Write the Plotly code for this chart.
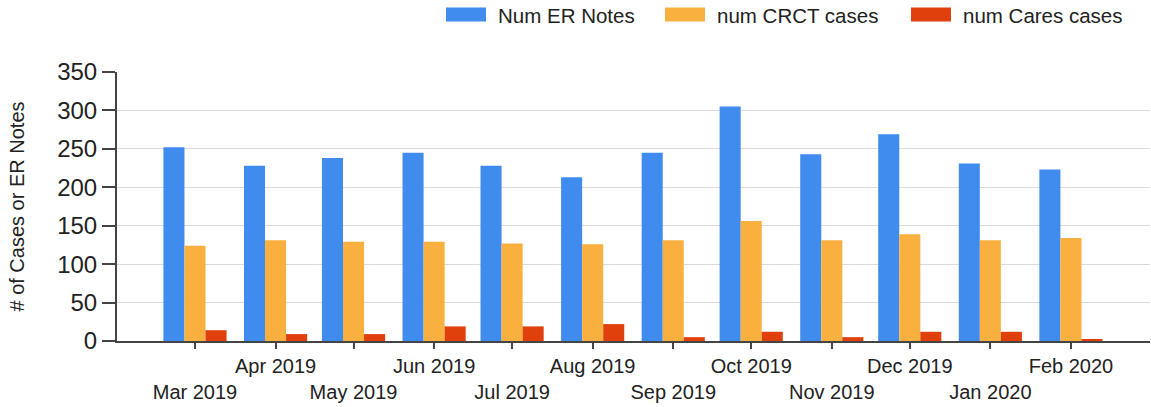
import plotly.graph_objects as go

# ---- data ----
months = ["2019-03-01", "2019-04-01", "2019-05-01", "2019-06-01", "2019-07-01", "2019-08-01",
          "2019-09-01", "2019-10-01", "2019-11-01", "2019-12-01", "2020-01-01", "2020-02-01"]
month_labels = ["Mar 2019", "Apr 2019", "May 2019", "Jun 2019", "Jul 2019", "Aug 2019",
                "Sep 2019", "Oct 2019", "Nov 2019", "Dec 2019", "Jan 2020", "Feb 2020"]
er_notes = [252, 228, 238, 245, 228, 213, 245, 305, 243, 269, 231, 223]
crct_cases = [124, 131, 129, 129, 127, 126, 131, 156, 131, 139, 131, 134]
cares_cases = [14, 9, 9, 19, 19, 22, 5, 12, 5, 12, 12, 2]
series_names = ["Num ER Notes", "num CRCT cases", "num Cares cases"]
y_ticks = [0, 50, 100, 150, 200, 250, 300, 350]

colors = ["#3F8BEE", "#F9B03E", "#E0400C"]
series_values = [er_notes, crct_cases, cares_cases]

FONT = "Liberation Sans, Arial, sans-serif"
TEXT = "#222222"
AXIS = "#444444"

W, H = 1151, 407
L, R, T, B = 117, 1, 71.5, 66
pw, ph = W - L - R, H - T - B

fig = go.Figure()
for name, vals, col in zip(series_names, series_values, colors):
    fig.add_trace(go.Bar(x=months, y=vals, name=name, marker=dict(color=col, line=dict(width=0)),
                         showlegend=False))

# staggered tick labels: even-index labels on the second row
tick_text = [("<br>" + lab) if i % 2 == 0 else lab for i, lab in enumerate(month_labels)]

fig.update_layout(
    width=W, height=H, autosize=False,
    margin=dict(l=L, r=R, t=T, b=B),
    paper_bgcolor="white", plot_bgcolor="white",
    barmode="group", bargap=0.19, bargroupgap=0,
    font=dict(family=FONT, color=TEXT),
    xaxis=dict(
        type="date", range=["2019-01-30", "2020-03-02 10:00"],
        tickvals=months, ticktext=tick_text, tickangle=0,
        tickfont=dict(size=20, color=TEXT),
        ticks="outside", ticklen=6, tickwidth=2, tickcolor=AXIS,
        showline=True, linecolor=AXIS, linewidth=2,
        showgrid=False, zeroline=False,
    ),
    yaxis=dict(
        range=[0, 350], tickvals=y_ticks,
        tickfont=dict(size=24, color=TEXT),
        ticks="outside", ticklen=13, tickwidth=2, tickcolor=AXIS,
        showline=True, linecolor=AXIS, linewidth=2,
        showgrid=True, gridcolor="#dadada", gridwidth=1,
        zeroline=False,
        title=dict(text="# of Cases or ER Notes", font=dict(size=20, color=TEXT), standoff=27),
    ),
)

# custom legend (wide swatches like the reference)
def px_x(p):
    return (p - L) / pw

def px_y(p):
    return (H - B - p) / ph

legend_box_left = [446, 665, 911]
box_w, box_top, box_bot = 40, 7, 21
for name, col, bx in zip(series_names, colors, legend_box_left):
    fig.add_shape(type="rect", xref="paper", yref="paper",
                  x0=px_x(bx), x1=px_x(bx + box_w), y0=px_y(box_bot), y1=px_y(box_top),
                  fillcolor=col, line=dict(width=0))
    fig.add_annotation(xref="paper", yref="paper", x=px_x(bx + box_w + 10), y=px_y(14.5),
                       xanchor="left", yanchor="middle", text=name, showarrow=False,
                       font=dict(size=20.5, color=TEXT, family=FONT))

fig.write_html("out.html", config={"displayModeBar": False},
               post_script="document.body.style.margin='0px';")
